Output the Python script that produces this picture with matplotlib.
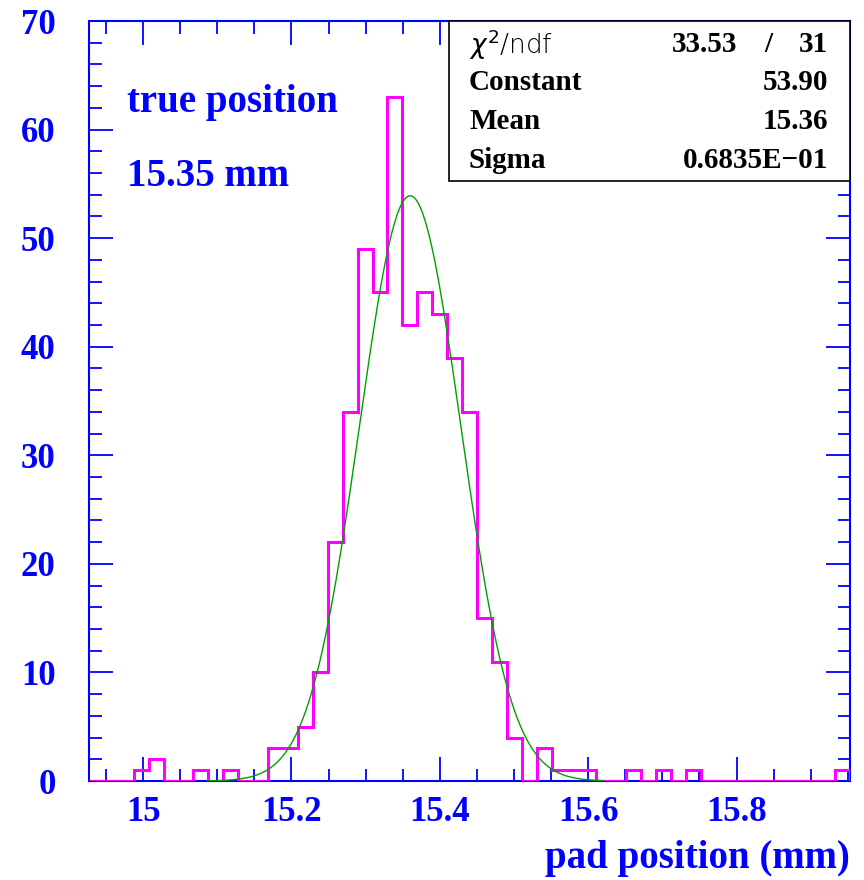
import numpy as np
import matplotlib
matplotlib.use("Agg")
import matplotlib.pyplot as plt
from matplotlib.patches import Rectangle
from matplotlib.ticker import MultipleLocator

# histogram: 51 bins between the axis limits
x_lo, x_hi = 14.927, 15.953
counts = [0, 0, 0, 1, 2, 0, 0, 1, 0, 1,
          0, 0, 3, 3, 5, 10, 22, 34, 49, 45,
          63, 42, 45, 43, 39, 34, 15, 11, 4, 0,
          3, 1, 1, 1, 0, 0, 1, 0, 1, 0,
          1, 0, 0, 0, 0, 0, 0, 0, 0, 0,
          1]

# gaussian fit
fit_const, fit_mean, fit_sigma = 53.90, 15.36, 0.06835
fit_lo, fit_hi = 15.088, 15.62

xticks = [15.0, 15.2, 15.4, 15.6, 15.8]
xtick_labels = ['15', '15.2', '15.4', '15.6', '15.8']
yticks = [0, 10, 20, 30, 40, 50, 60, 70]

stat_names = ['Constant', 'Mean', 'Sigma']
stat_values = ['53.90', '15.36', '0.6835E\u221201']
chi2, ndf = '33.53', '31'

blue = '#0000ff'
serif = 'Liberation Serif'

fig = plt.figure(figsize=(8.64, 8.8), dpi=100)
ax = fig.add_axes([89/864, 1 - 781/880, (850 - 89)/864, (781 - 21)/880])

edges = np.linspace(x_lo, x_hi, len(counts) + 1)
ax.stairs(counts, edges, color='#ff00ff', lw=2.2, zorder=3)

xf = np.linspace(fit_lo, fit_hi, 300)
yf = fit_const * np.exp(-0.5 * ((xf - fit_mean) / fit_sigma) ** 2)
ax.plot(xf, yf, color='#00a000', lw=1.0, zorder=4)

ax.set_xlim(x_lo, x_hi)
ax.set_ylim(0, 70)
ax.set_xticks(xticks)
ax.set_xticklabels(xtick_labels)
ax.set_yticks(yticks)
ax.xaxis.set_minor_locator(MultipleLocator(0.05))
ax.yaxis.set_minor_locator(MultipleLocator(2))
ax.tick_params(which='both', direction='in', color=blue, width=1.3,
               top=True, right=True, labelcolor=blue)
ax.tick_params(which='major', length=17)
ax.tick_params(which='minor', length=9)
ax.tick_params(axis='x', which='major', pad=11)
ax.tick_params(axis='y', which='major', pad=24)
for lab in ax.get_xticklabels() + ax.get_yticklabels():
    lab.set_fontfamily(serif)
    lab.set_fontweight('bold')
    lab.set_fontsize(25)
for sp in ax.spines.values():
    sp.set_color(blue)
    sp.set_linewidth(1.5)

# stats box
box = Rectangle((449/864, 1 - 181/880), (850 - 449)/864, (181 - 21)/880,
                transform=fig.transFigure, facecolor='white',
                edgecolor='black', lw=1.2, zorder=1)
fig.patches.append(box)
lx, rx = 469/864, 828/864
fig.text(lx, 1 - 45/880, r'$\chi^2$/ndf', fontsize=19, family='DejaVu Sans',
         fontweight='light', va='center', ha='left')
fig.text(737/864, 1 - 45/880, chi2, fontsize=21, family=serif,
         fontweight='bold', va='center', ha='right')
fig.text(768/864, 1 - 45/880, '/', fontsize=21, family=serif,
         fontweight='bold', va='center', ha='center')
fig.text(rx, 1 - 45/880, ndf, fontsize=21, family=serif,
         fontweight='bold', va='center', ha='right')
for i, (name, val) in enumerate(zip(stat_names, stat_values)):
    y = 1 - (82 + 39.5 * i)/880
    fig.text(lx, y, name, fontsize=21, family=serif, fontweight='bold',
             va='center', ha='left')
    fig.text(rx, y, val, fontsize=21, family=serif, fontweight='bold',
             va='center', ha='right')

fig.text(127/864, 1 - 102/880, 'true position', fontsize=28, family=serif,
         fontweight='bold', color=blue, va='center', ha='left')
fig.text(127/864, 1 - 177/880, '15.35 mm', fontsize=28, family=serif,
         fontweight='bold', color=blue, va='center', ha='left')
fig.text(850/864, 1 - 858/880, 'pad position (mm)', fontsize=28, family=serif,
         fontweight='bold', color=blue, va='center', ha='right')

fig.savefig('out.png', dpi=100)
